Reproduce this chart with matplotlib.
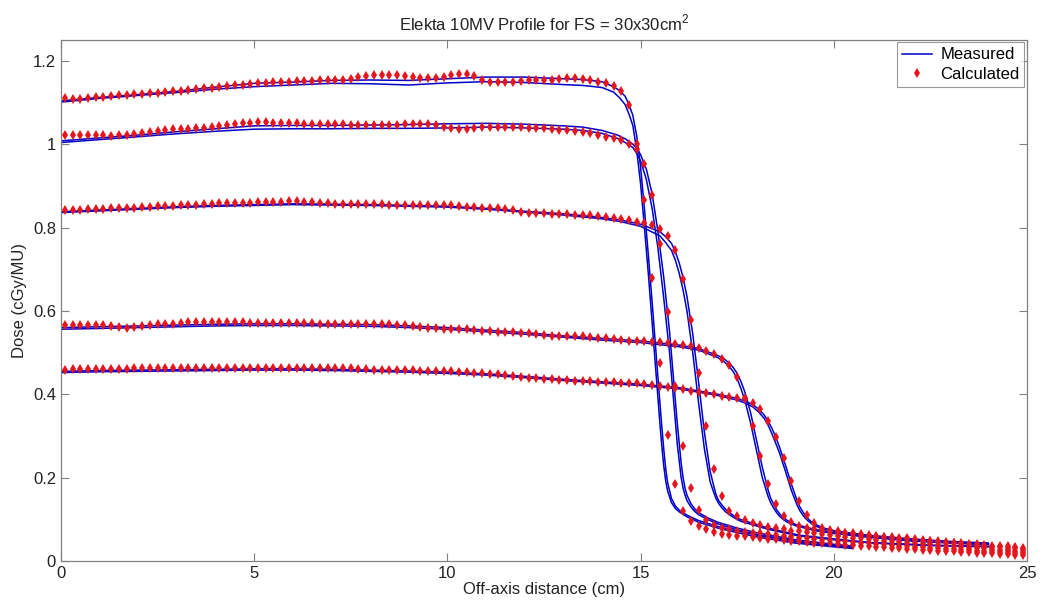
import numpy as np
import matplotlib
matplotlib.use('Agg')
import matplotlib.pyplot as plt

plt.rcParams['font.family'] = ['Liberation Sans', 'DejaVu Sans']
plt.rcParams['mathtext.fontset'] = 'custom'
plt.rcParams['mathtext.rm'] = 'Liberation Sans'

# calculated profiles, sampled every 0.2 cm from 0.1 to 24.9 cm
calc_x = np.round(np.arange(0.1, 24.95, 0.2), 1)

calc_d1 = [1.112, 1.109, 1.109, 1.110, 1.113, 1.114, 1.116, 1.118, 1.119, 1.120,
           1.121, 1.122, 1.123, 1.125, 1.127, 1.128, 1.130, 1.132, 1.134, 1.136,
           1.138, 1.139, 1.141, 1.143, 1.145, 1.146, 1.147, 1.148, 1.149, 1.150,
           1.151, 1.152, 1.152, 1.153, 1.154, 1.155, 1.155, 1.157, 1.160, 1.163,
           1.165, 1.166, 1.166, 1.165, 1.164, 1.160, 1.158, 1.158, 1.159, 1.162,
           1.167, 1.169, 1.168, 1.163, 1.155, 1.150, 1.150, 1.149, 1.150, 1.152,
           1.154, 1.154, 1.153, 1.154, 1.156, 1.158, 1.158, 1.157, 1.155, 1.150,
           1.146, 1.140, 1.128, 1.093, 1.000, 0.867, 0.678, 0.476, 0.303, 0.185,
           0.119, 0.095, 0.083, 0.076, 0.069, 0.065, 0.063, 0.061, 0.059, 0.057,
           0.055, 0.053, 0.052, 0.050, 0.049, 0.047, 0.046, 0.044, 0.043, 0.042,
           0.040, 0.039, 0.038, 0.036, 0.035, 0.034, 0.033, 0.031, 0.030, 0.029,
           0.028, 0.027, 0.026, 0.025, 0.024, 0.023, 0.022, 0.021, 0.020, 0.019,
           0.018, 0.017, 0.016, 0.015, 0.014]

calc_d2 = [1.022, 1.022, 1.022, 1.022, 1.022, 1.021, 1.020, 1.021, 1.022, 1.025,
           1.028, 1.030, 1.032, 1.035, 1.036, 1.036, 1.037, 1.038, 1.040, 1.042,
           1.044, 1.046, 1.048, 1.050, 1.052, 1.053, 1.053, 1.052, 1.051, 1.050,
           1.050, 1.049, 1.049, 1.049, 1.048, 1.048, 1.048, 1.047, 1.047, 1.046,
           1.046, 1.046, 1.046, 1.047, 1.048, 1.049, 1.049, 1.048, 1.046, 1.042,
           1.038, 1.037, 1.037, 1.039, 1.041, 1.041, 1.041, 1.041, 1.041, 1.041,
           1.040, 1.039, 1.038, 1.037, 1.035, 1.033, 1.031, 1.029, 1.026, 1.022,
           1.018, 1.014, 1.010, 1.000, 0.988, 0.953, 0.879, 0.760, 0.598, 0.421,
           0.275, 0.176, 0.123, 0.098, 0.086, 0.080, 0.076, 0.073, 0.070, 0.068,
           0.066, 0.064, 0.062, 0.060, 0.058, 0.056, 0.055, 0.053, 0.051, 0.050,
           0.048, 0.047, 0.045, 0.044, 0.042, 0.041, 0.040, 0.038, 0.037, 0.036,
           0.034, 0.033, 0.032, 0.031, 0.029, 0.028, 0.027, 0.026, 0.025, 0.024,
           0.023, 0.022, 0.021, 0.020, 0.019]

calc_d3 = [0.842, 0.843, 0.843, 0.844, 0.845, 0.845, 0.846, 0.847, 0.848, 0.848,
           0.849, 0.850, 0.851, 0.851, 0.852, 0.853, 0.854, 0.855, 0.856, 0.857,
           0.858, 0.858, 0.859, 0.860, 0.860, 0.861, 0.861, 0.862, 0.862, 0.863,
           0.863, 0.862, 0.861, 0.859, 0.858, 0.857, 0.856, 0.856, 0.856, 0.856,
           0.856, 0.856, 0.855, 0.855, 0.855, 0.855, 0.855, 0.855, 0.854, 0.854,
           0.853, 0.852, 0.850, 0.849, 0.848, 0.847, 0.846, 0.844, 0.841, 0.838,
           0.836, 0.835, 0.834, 0.833, 0.832, 0.832, 0.831, 0.830, 0.829, 0.828,
           0.825, 0.823, 0.820, 0.817, 0.814, 0.810, 0.806, 0.796, 0.780, 0.746,
           0.677, 0.578, 0.451, 0.323, 0.221, 0.155, 0.121, 0.107, 0.098, 0.091,
           0.086, 0.082, 0.079, 0.076, 0.073, 0.071, 0.069, 0.067, 0.065, 0.063,
           0.060, 0.058, 0.056, 0.054, 0.052, 0.051, 0.049, 0.047, 0.046, 0.044,
           0.043, 0.041, 0.040, 0.038, 0.037, 0.035, 0.034, 0.032, 0.031, 0.030,
           0.029, 0.027, 0.026, 0.025, 0.024]

calc_d4 = [0.565, 0.565, 0.566, 0.565, 0.565, 0.565, 0.564, 0.561, 0.560, 0.561,
           0.564, 0.567, 0.568, 0.568, 0.569, 0.572, 0.573, 0.573, 0.573, 0.573,
           0.573, 0.573, 0.573, 0.573, 0.572, 0.571, 0.570, 0.570, 0.570, 0.570,
           0.570, 0.570, 0.570, 0.569, 0.569, 0.568, 0.568, 0.568, 0.568, 0.568,
           0.568, 0.568, 0.568, 0.567, 0.566, 0.564, 0.561, 0.559, 0.558, 0.557,
           0.557, 0.557, 0.556, 0.555, 0.553, 0.551, 0.550, 0.549, 0.549, 0.548,
           0.547, 0.545, 0.543, 0.541, 0.540, 0.539, 0.539, 0.539, 0.537, 0.536,
           0.534, 0.533, 0.531, 0.529, 0.528, 0.527, 0.526, 0.525, 0.522, 0.520,
           0.518, 0.515, 0.511, 0.505, 0.497, 0.485, 0.471, 0.442, 0.391, 0.325,
           0.253, 0.185, 0.137, 0.107, 0.093, 0.085, 0.080, 0.076, 0.073, 0.070,
           0.068, 0.066, 0.064, 0.062, 0.060, 0.058, 0.057, 0.055, 0.053, 0.052,
           0.050, 0.048, 0.047, 0.045, 0.043, 0.042, 0.040, 0.039, 0.037, 0.036,
           0.034, 0.033, 0.031, 0.030, 0.028]

calc_d5 = [0.459, 0.460, 0.460, 0.461, 0.461, 0.461, 0.461, 0.461, 0.461, 0.462,
           0.462, 0.462, 0.462, 0.462, 0.462, 0.462, 0.462, 0.462, 0.462, 0.462,
           0.462, 0.462, 0.462, 0.462, 0.462, 0.463, 0.463, 0.463, 0.463, 0.463,
           0.463, 0.463, 0.463, 0.463, 0.463, 0.463, 0.463, 0.462, 0.461, 0.460,
           0.459, 0.459, 0.459, 0.459, 0.459, 0.458, 0.457, 0.456, 0.455, 0.455,
           0.455, 0.454, 0.453, 0.451, 0.450, 0.449, 0.448, 0.447, 0.445, 0.442,
           0.440, 0.438, 0.437, 0.436, 0.435, 0.434, 0.432, 0.431, 0.431, 0.430,
           0.430, 0.429, 0.428, 0.427, 0.426, 0.424, 0.422, 0.420, 0.418, 0.416,
           0.412, 0.408, 0.405, 0.403, 0.400, 0.397, 0.394, 0.391, 0.388, 0.379,
           0.365, 0.337, 0.298, 0.246, 0.191, 0.143, 0.111, 0.091, 0.079, 0.075,
           0.071, 0.068, 0.066, 0.064, 0.062, 0.060, 0.058, 0.057, 0.055, 0.054,
           0.052, 0.050, 0.049, 0.047, 0.046, 0.044, 0.043, 0.041, 0.040, 0.039,
           0.037, 0.036, 0.035, 0.033, 0.032]

# measured profiles, two scans per depth
meas_x_d1 = [0, 1, 2, 3, 4, 5, 6, 7, 8, 9, 10, 11, 12, 13, 13.5, 14, 14.3, 14.45, 14.6, 14.7,
             14.8, 14.9, 15.0, 15.1, 15.2, 15.3, 15.4, 15.5, 15.55, 15.6, 15.65, 15.7, 15.8, 15.9,
             16.0, 16.2, 16.5, 17, 17.5, 18, 19, 20, 20.5]
meas_d1_a = [1.104, 1.112, 1.119, 1.127, 1.137, 1.146, 1.149, 1.153, 1.154, 1.153, 1.157, 1.161,
             1.161, 1.157, 1.155, 1.150, 1.138, 1.129, 1.115, 1.095, 1.069, 1.020, 0.945, 0.845,
             0.735, 0.620, 0.500, 0.380, 0.322, 0.268, 0.222, 0.188, 0.150, 0.132, 0.122, 0.110,
             0.097, 0.083, 0.072, 0.062, 0.046, 0.036, 0.032]
meas_d1_b = [1.101, 1.110, 1.117, 1.124, 1.132, 1.138, 1.142, 1.146, 1.145, 1.142, 1.147, 1.150,
             1.148, 1.143, 1.141, 1.136, 1.125, 1.112, 1.095, 1.072, 1.045, 0.985, 0.905, 0.800,
             0.690, 0.570, 0.450, 0.330, 0.275, 0.228, 0.192, 0.168, 0.140, 0.126, 0.118, 0.106,
             0.093, 0.079, 0.068, 0.058, 0.043, 0.034, 0.030]

meas_x_d2 = [0, 1, 2, 3, 4, 5, 6, 7, 8, 9, 10, 11, 12, 13, 13.5, 14, 14.4, 14.6, 14.8, 14.9,
             15.0, 15.15, 15.3, 15.45, 15.6, 15.75, 15.85, 15.95, 16.05, 16.1, 16.15, 16.2, 16.3,
             16.4, 16.5, 16.75, 17, 17.5, 18, 19, 20, 20.5]
meas_d2_a = [1.008, 1.015, 1.022, 1.030, 1.037, 1.044, 1.045, 1.045, 1.046, 1.047, 1.049, 1.050,
             1.048, 1.044, 1.041, 1.033, 1.022, 1.013, 1.000, 0.990, 0.975, 0.940, 0.880, 0.790,
             0.680, 0.550, 0.440, 0.330, 0.235, 0.200, 0.175, 0.158, 0.138, 0.125, 0.116, 0.103,
             0.093, 0.079, 0.068, 0.051, 0.040, 0.036]
meas_d2_b = [1.004, 1.011, 1.018, 1.025, 1.031, 1.036, 1.037, 1.037, 1.038, 1.038, 1.039, 1.041,
             1.039, 1.036, 1.033, 1.026, 1.014, 1.004, 0.992, 0.978, 0.960, 0.915, 0.845, 0.750,
             0.630, 0.500, 0.390, 0.280, 0.200, 0.175, 0.158, 0.145, 0.130, 0.119, 0.111, 0.099,
             0.089, 0.075, 0.064, 0.048, 0.037, 0.033]

meas_x_d3 = [0, 1, 2, 3, 4, 5, 6, 7, 8, 9, 10, 11, 12, 13, 14, 14.5, 15, 15.5, 15.65, 15.8,
             15.9, 16.0, 16.1, 16.2, 16.35, 16.5, 16.65, 16.8, 16.88, 16.95, 17.02, 17.1, 17.2,
             17.3, 17.45, 17.6, 18.3, 19.1, 20, 21, 22.5, 24]
meas_d3_a = [0.838, 0.842, 0.846, 0.850, 0.853, 0.855, 0.857, 0.856, 0.855, 0.853, 0.851, 0.846,
             0.839, 0.833, 0.824, 0.818, 0.808, 0.790, 0.778, 0.762, 0.742, 0.715, 0.680, 0.635,
             0.545, 0.430, 0.310, 0.215, 0.185, 0.160, 0.145, 0.135, 0.124, 0.116, 0.106, 0.099,
             0.079, 0.062, 0.053, 0.044, 0.038, 0.035]
meas_d3_b = [0.836, 0.840, 0.844, 0.848, 0.851, 0.853, 0.855, 0.854, 0.853, 0.851, 0.849, 0.844,
             0.837, 0.830, 0.821, 0.814, 0.803, 0.780, 0.764, 0.745, 0.722, 0.690, 0.650, 0.600,
             0.500, 0.380, 0.270, 0.190, 0.168, 0.150, 0.138, 0.128, 0.118, 0.111, 0.102, 0.095,
             0.076, 0.060, 0.051, 0.043, 0.037, 0.034]

meas_x_d4 = [0, 1, 2, 3, 4, 5, 6, 7, 8, 9, 10, 11, 12, 13, 14, 15, 16, 16.5, 17.0, 17.15,
             17.3, 17.4, 17.5, 17.6, 17.7, 17.85, 18.0, 18.15, 18.3, 18.37, 18.45, 18.52, 18.6,
             18.7, 18.8, 19.0, 19.5, 20, 21, 22, 23, 24]
meas_d4_a = [0.560, 0.562, 0.564, 0.566, 0.568, 0.569, 0.569, 0.568, 0.567, 0.564, 0.560, 0.554,
             0.548, 0.540, 0.534, 0.528, 0.518, 0.510, 0.493, 0.486, 0.474, 0.464, 0.450, 0.430,
             0.405, 0.355, 0.290, 0.225, 0.170, 0.150, 0.135, 0.123, 0.113, 0.104, 0.097, 0.088,
             0.076, 0.068, 0.058, 0.050, 0.044, 0.040]
meas_d4_b = [0.556, 0.558, 0.560, 0.562, 0.564, 0.565, 0.565, 0.564, 0.563, 0.560, 0.556, 0.550,
             0.544, 0.537, 0.530, 0.524, 0.514, 0.506, 0.488, 0.479, 0.466, 0.454, 0.437, 0.413,
             0.385, 0.330, 0.265, 0.200, 0.155, 0.139, 0.126, 0.116, 0.107, 0.099, 0.093, 0.085,
             0.073, 0.066, 0.056, 0.048, 0.043, 0.039]

meas_x_d5 = [0, 1, 2, 3, 4, 5, 6, 7, 8, 9, 10, 11, 12, 13, 14, 15, 16, 17, 17.5, 17.7,
             17.9, 18.05, 18.2, 18.3, 18.4, 18.5, 18.6, 18.75, 18.9, 19.05, 19.12, 19.2, 19.27,
             19.35, 19.42, 19.5, 19.7, 20, 20.5, 21, 22, 23, 24]
meas_d5_a = [0.455, 0.457, 0.458, 0.459, 0.460, 0.461, 0.461, 0.460, 0.458, 0.456, 0.453, 0.449,
             0.443, 0.436, 0.430, 0.424, 0.416, 0.400, 0.390, 0.384, 0.375, 0.365, 0.350, 0.336,
             0.318, 0.297, 0.272, 0.230, 0.185, 0.145, 0.130, 0.118, 0.108, 0.100, 0.094, 0.089,
             0.080, 0.073, 0.066, 0.061, 0.053, 0.047, 0.043]
meas_d5_b = [0.452, 0.454, 0.455, 0.456, 0.457, 0.458, 0.458, 0.457, 0.455, 0.453, 0.450, 0.446,
             0.440, 0.433, 0.427, 0.421, 0.413, 0.397, 0.386, 0.379, 0.370, 0.358, 0.342, 0.326,
             0.305, 0.282, 0.258, 0.215, 0.170, 0.134, 0.121, 0.110, 0.102, 0.095, 0.090, 0.085,
             0.077, 0.071, 0.064, 0.059, 0.052, 0.046, 0.042]

measured = [(meas_x_d1, meas_d1_a), (meas_x_d1, meas_d1_b),
            (meas_x_d2, meas_d2_a), (meas_x_d2, meas_d2_b),
            (meas_x_d3, meas_d3_a), (meas_x_d3, meas_d3_b),
            (meas_x_d4, meas_d4_a), (meas_x_d4, meas_d4_b),
            (meas_x_d5, meas_d5_a), (meas_x_d5, meas_d5_b)]
calculated = [calc_d1, calc_d2, calc_d3, calc_d4, calc_d5]

fig = plt.figure(figsize=(10.42, 6.04), dpi=100)
ax = fig.add_axes([0.0585, 0.0712, 0.9271, 0.8626])

for i, (mx, my) in enumerate(measured):
    ax.plot(mx, my, color='#0000c8', lw=1.1, label='Measured' if i == 0 else None, zorder=2)
for i, cy in enumerate(calculated):
    ax.plot(calc_x, cy, 'd', color='#e8141c', markersize=5, markeredgewidth=0,
            label='Calculated' if i == 0 else None, zorder=3)

ax.set_xlim(0, 25)
ax.set_ylim(0, 1.25)
ax.set_xticks([0, 5, 10, 15, 20, 25])
ax.set_yticks([0, 0.2, 0.4, 0.6, 0.8, 1.0, 1.2])
ax.set_yticklabels(['0', '0.2', '0.4', '0.6', '0.8', '1', '1.2'])
ax.tick_params(direction='in', length=6, width=0.8, top=True, right=True,
               labelsize=12, colors='#808080', labelcolor='#222222')
for s in ax.spines.values():
    s.set_color('#808080')
    s.set_linewidth(0.9)

ax.set_xlabel('Off-axis distance (cm)', fontsize=12, color='#222222', labelpad=1)
ax.set_ylabel('Dose (cGy/MU)', fontsize=12, color='#222222', labelpad=4)
ax.set_title(r'Elekta 10MV Profile for FS = 30x30cm$^{2}$', fontsize=12, color='#222222', pad=7)

leg = ax.legend(loc='upper right', fontsize=12, frameon=True, fancybox=False,
                borderaxespad=0.15, handlelength=1.8, handletextpad=0.5,
                borderpad=0.3, labelspacing=0.25)
leg.get_frame().set_edgecolor('#808080')
leg.get_frame().set_linewidth(0.8)

fig.savefig('out.png', dpi=100)
